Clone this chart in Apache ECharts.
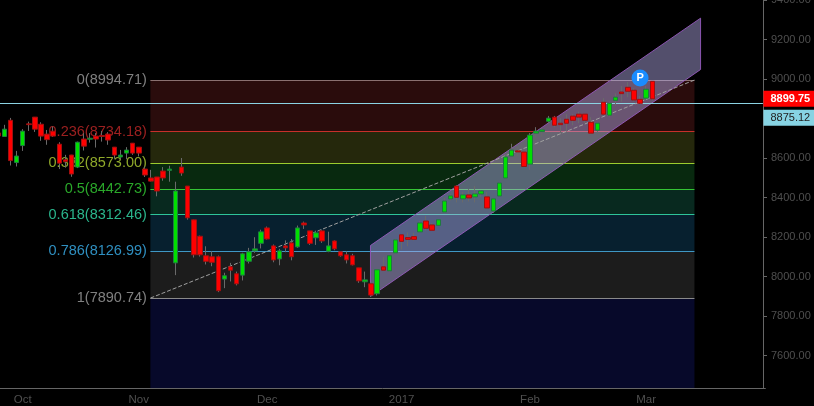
<!DOCTYPE html>
<html>
<head>
<meta charset="utf-8">
<style>
	html, body { margin: 0; padding: 0; background: #000; }
	#main { width: 814px; height: 406px; }
</style>
<script src="https://cdn.jsdelivr.net/npm/echarts@6/dist/echarts.min.js"></script>
</head>
<body>
<div id="main"></div>
<script>
// candles
var opens = [
	8727, 8709, 8791, 8577, 8663, 8773, 8807, 8771, 8721, 8736,
	8670, 8591, 8615, 8554, 8696, 8695, 8711, 8714, 8721, 8655,
	8605, 8625, 8675, 8655, 8544, 8499, 8504, 8534, 8537, 8069,
	8554, 8458, 8287, 8204, 8105, 8100, 8100, 7987, 8049, 8014,
	8007, 8077, 8130, 8168, 8246, 8155, 8089, 8155, 8170, 8150,
	8271, 8231, 8196, 8231, 8128, 8180, 8125, 8110, 8105, 8044,
	7973, 7963, 7913, 8049, 8029, 8120, 8211, 8197, 8202, 8226,
	8281, 8261, 8259, 8327, 8393, 8458, 8393, 8413, 8403, 8418,
	8403, 8332, 8408, 8499, 8610, 8636, 8630, 8569, 8726, 8734,
	8786, 8807, 8776, 8796, 8812, 8822, 8822, 8781, 8741, 8882,
	8817, 8892, 8934, 8958, 8943, 8897, 8903, 8988
];
var closes = [
	8712, 8746, 8587, 8610, 8736, 8769, 8746, 8711, 8693, 8711,
	8574, 8582, 8519, 8680, 8660, 8700, 8696, 8709, 8691, 8615,
	8615, 8640, 8625, 8625, 8514, 8483, 8433, 8499, 8544, 8433,
	8524, 8297, 8110, 8110, 8077, 8072, 7928, 8004, 8032, 7963,
	8115, 8125, 8140, 8226, 8190, 8084, 8130, 8145, 8100, 8246,
	8261, 8168, 8221, 8180, 8155, 8140, 8105, 8084, 8059, 7978,
	7983, 7906, 8034, 8032, 8105, 8185, 8178, 8188, 8188, 8271,
	8244, 8234, 8287, 8382, 8408, 8401, 8413, 8398, 8418, 8433,
	8347, 8393, 8473, 8605, 8640, 8631, 8557, 8716, 8736, 8742,
	8802, 8766, 8769, 8776, 8791, 8807, 8791, 8726, 8776, 8822,
	8877, 8908, 8926, 8938, 8894, 8877, 8948, 8899.75
];
var lows = [
	8702, 8709, 8562, 8557, 8636, 8737, 8732, 8687, 8667, 8707,
	8544, 8551, 8505, 8549, 8638, 8678, 8653, 8683, 8667, 8596,
	8594, 8594, 8616, 8608, 8504, 8481, 8406, 8485, 8480, 8007,
	8510, 8288, 8096, 8101, 8061, 8052, 7921, 7941, 7975, 7955,
	7980, 8066, 8120, 8142, 8187, 8072, 8057, 8123, 8082, 8145,
	8241, 8160, 8160, 8170, 8123, 8133, 8100, 8066, 8056, 7968,
	7946, 7899, 7904, 8027, 8022, 8115, 8136, 8153, 8182, 8221,
	8232, 8231, 8258, 8322, 8385, 8375, 8375, 8379, 8375, 8403,
	8344, 8322, 8404, 8495, 8606, 8608, 8554, 8540, 8702, 8706,
	8776, 8756, 8726, 8734, 8766, 8776, 8776, 8716, 8726, 8818,
	8810, 8865, 8885, 8908, 8885, 8872, 8897, 8890
];
var highs = [
	8742, 8768, 8803, 8636, 8746, 8784, 8807, 8781, 8742, 8759,
	8680, 8616, 8616, 8683, 8726, 8726, 8726, 8737, 8731, 8655,
	8641, 8655, 8675, 8655, 8557, 8540, 8504, 8554, 8561, 8480,
	8600, 8458, 8288, 8207, 8153, 8128, 8106, 8019, 8069, 8025,
	8120, 8145, 8199, 8237, 8253, 8162, 8140, 8183, 8190, 8258,
	8278, 8231, 8232, 8237, 8227, 8183, 8128, 8128, 8115, 8044,
	8025, 7970, 8039, 8100, 8110, 8190, 8211, 8224, 8222, 8281,
	8307, 8271, 8291, 8398, 8418, 8463, 8428, 8443, 8458, 8438,
	8428, 8398, 8478, 8615, 8672, 8658, 8630, 8726, 8756, 8753,
	8813, 8813, 8802, 8822, 8822, 8835, 8822, 8807, 8781, 8903,
	8885, 8928, 8965, 8985, 8953, 8914, 8965, 8988
];

var slotCount = 126; // includes the empty slots right of the last candle
var monthIndex = [4, 23, 44, 66, 87, 106];
var monthLabels = ['Oct', 'Nov', 'Dec', '2017', 'Feb', 'Mar'];
var priceTicks = [7600, 7800, 8000, 8200, 8400, 8600, 8800, 9000, 9200, 9400];

// fibonacci levels
var fibRatios = ['0', '0.236', '0.382', '0.5', '0.618', '0.786', '1'];
var fibLevels = [8994.71, 8734.18, 8573.00, 8442.73, 8312.46, 8126.99, 7890.74];
var fibLineColors = ['#8a7070', '#c8302a', '#9ccc2e', '#35c435', '#2ec49a', '#3f97c4', '#8a8a8a'];
var fibTextColors = ['#808080', '#9c2020', '#8fa82a', '#2aa82a', '#2ab58c', '#2f8fc0', '#808080'];
var fibBands = ['#2a0c0c', '#25280c', '#08290f', '#08291f', '#07202f', '#1c1c1c', '#07092a'];
var fibStart = 24.9, fibEnd = 113.9;

// trend channel and the dashed line
var channelIndex = [60.9, 114.9, 114.9, 60.9];
var channelPrice = [8157, 9308, 9048, 7899];

var lastPrice = 8899.75;
var bidPrice = 8875.12;
var axisEnd = 125.1;
var yMin = 7434, yMax = 9400;

var categories = [];
for (var i = 0; i < slotCount; i++) {
	var m = monthIndex.indexOf(i);
	categories.push(m == -1 ? '' : monthLabels[m]);
}
var candles = [];
var bodies = [];
for (var i = 0; i < opens.length; i++) {
	candles.push([opens[i], closes[i], lows[i], highs[i]]);
	bodies.push([opens[i], closes[i], Math.min(opens[i], closes[i]), Math.max(opens[i], closes[i])]);
}

var series = [];

// 1px horizontal line snapped to the pixel row, a plain line series comes out blurred
function flatLine(price, from, to, color, z) {
	return {
		type: 'custom',
		xAxisIndex: 1,
		z: z,
		silent: true,
		data: [[from, price]],
		renderItem: function(params, api) {
			var a = api.coord([from, price]);
			var b = api.coord([to, price]);
			return {
				type: 'rect',
				shape: { x: a[0], y: Math.round(a[1] - 0.5), width: b[0] - a[0], height: 1 },
				style: { fill: color }
			};
		}
	};
}

// bands behind everything
for (var i = 0; i < fibLevels.length; i++) {
	var bottom = i + 1 < fibLevels.length ? fibLevels[i + 1] : yMin;
	var fibLine = flatLine(fibLevels[i], fibStart, fibEnd, fibLineColors[i], 1);
	fibLine.markArea = {
		silent: true,
		z: 0,
		itemStyle: { color: fibBands[i] },
		data: [[{ coord: [fibStart, fibLevels[i]] }, { coord: [fibEnd, bottom] }]]
	};
	series.push(fibLine);
	series.push({
		type: 'scatter',
		xAxisIndex: 1,
		z: 1,
		symbolSize: 1,
		silent: true,
		clip: false,
		itemStyle: { color: 'transparent', opacity: 1 },
		label: {
			show: true,
			position: 'left',
			distance: 3,
			color: fibTextColors[i],
			fontSize: 14.5,
			fontFamily: 'Liberation Sans',
			formatter: fibRatios[i] + '(' + fibLevels[i].toFixed(2) + ')'
		},
		data: [[fibStart, fibLevels[i]]]
	});
}

series.push({
	type: 'custom',
	xAxisIndex: 1,
	z: 2,
	silent: true,
	data: [[channelIndex[0], channelPrice[0]]],
	renderItem: function(params, api) {
		var pts = [];
		for (var i = 0; i < channelIndex.length; i++) {
			pts.push(api.coord([channelIndex[i], channelPrice[i]]));
		}
		return {
			type: 'polygon',
			shape: { points: pts },
			style: { fill: 'rgba(185,175,240,0.45)', stroke: 'rgba(150,90,190,0.9)', lineWidth: 1 }
		};
	}
});

// dashed line from low to high
series.push({
	type: 'line',
	xAxisIndex: 1,
	z: 3,
	symbol: 'none',
	silent: true,
	lineStyle: { color: '#a0a0a0', width: 1, type: 'dashed' },
	data: [[fibStart, fibLevels[6]], [fibEnd, fibLevels[0]]]
});

series.push(flatLine(bidPrice, -0.5, axisEnd, '#8bd3e3', 3));

// grey wicks first, bodies drawn over them
series.push({
	type: 'candlestick',
	z: 4,
	barWidth: 1,
	silent: true,
	itemStyle: {
		color: '#6a6a6a',
		color0: '#6a6a6a',
		borderColor: '#6a6a6a',
		borderColor0: '#6a6a6a',
		borderWidth: 1
	},
	data: candles
});
series.push({
	type: 'candlestick',
	z: 5,
	barWidth: 5,
	silent: true,
	itemStyle: {
		color: '#00e000',
		color0: '#ff0000',
		borderColor: '#1f7a40',
		borderColor0: '#a01010',
		borderWidth: 1
	},
	data: bodies
});

// P badge over the high
series.push({
	type: 'scatter',
	xAxisIndex: 1,
	z: 6,
	symbol: 'circle',
	symbolSize: 17,
	silent: true,
	itemStyle: { color: '#1a8cff', opacity: 1 },
	label: {
		show: true,
		position: 'inside',
		formatter: 'P',
		color: '#fff',
		fontWeight: 'bold',
		fontSize: 11,
		fontFamily: 'Liberation Sans'
	},
	data: [[105, 9005]]
});

// price boxes right of the axis
function priceBox(value, bg, fg, weight, dy) {
	return {
		type: 'scatter',
		xAxisIndex: 1,
		z: 7,
		symbolSize: 1,
		silent: true,
		clip: false,
		itemStyle: { color: 'transparent', opacity: 1 },
		label: {
			show: true,
			position: 'right',
			distance: 0,
			offset: [0, dy],
			padding: [3, 12, 2, 7],
			backgroundColor: bg,
			color: fg,
			fontSize: 11,
			fontWeight: weight,
			fontFamily: 'Liberation Sans',
			formatter: value.toFixed(2)
		},
		data: [[axisEnd, value]]
	};
}
series.push(priceBox(lastPrice, '#ff0000', '#fff', 'bold', 0));
series.push(priceBox(bidPrice, '#87d3e3', '#222', 'normal', 14));

var myChart = echarts.init(document.getElementById('main'));
myChart.setOption({
	backgroundColor: '#000',
	animation: false,
	grid: { left: -4.87, right: 48.63, top: 0, bottom: 17.7, containLabel: false, outerBoundsMode: 'none' },
	xAxis: [
		{
			type: 'category',
			data: categories,
			boundaryGap: true,
			axisLine: { onZero: false, lineStyle: { color: '#666' } },
			axisTick: {
				alignWithLabel: true,
				length: 4,
				lineStyle: { color: '#666' },
				interval: function(index, value) { return value !== ''; }
			},
			axisLabel: {
				interval: 0,
				color: '#4f4f4f',
				fontSize: 11.5,
				margin: 6,
				fontFamily: 'Liberation Sans'
			},
			splitLine: { show: false }
		},
		{
			type: 'value',
			show: false,
			min: -0.5,
			max: slotCount - 0.5,
			splitLine: { show: false }
		}
	],
	yAxis: {
		type: 'value',
		position: 'right',
		offset: -2.37,
		min: yMin,
		max: yMax,
		axisLine: { show: true, onZero: false, lineStyle: { color: '#666' } },
		axisTick: { show: true, length: 4, lineStyle: { color: '#666' }, customValues: priceTicks },
		axisLabel: {
			color: '#4f4f4f',
			fontSize: 11,
			margin: 8,
			fontFamily: 'Liberation Sans',
			customValues: priceTicks,
			formatter: function(v) { return v.toFixed(2); }
		},
		splitLine: { show: false }
	},
	series: series
});
</script>
</body>
</html>
